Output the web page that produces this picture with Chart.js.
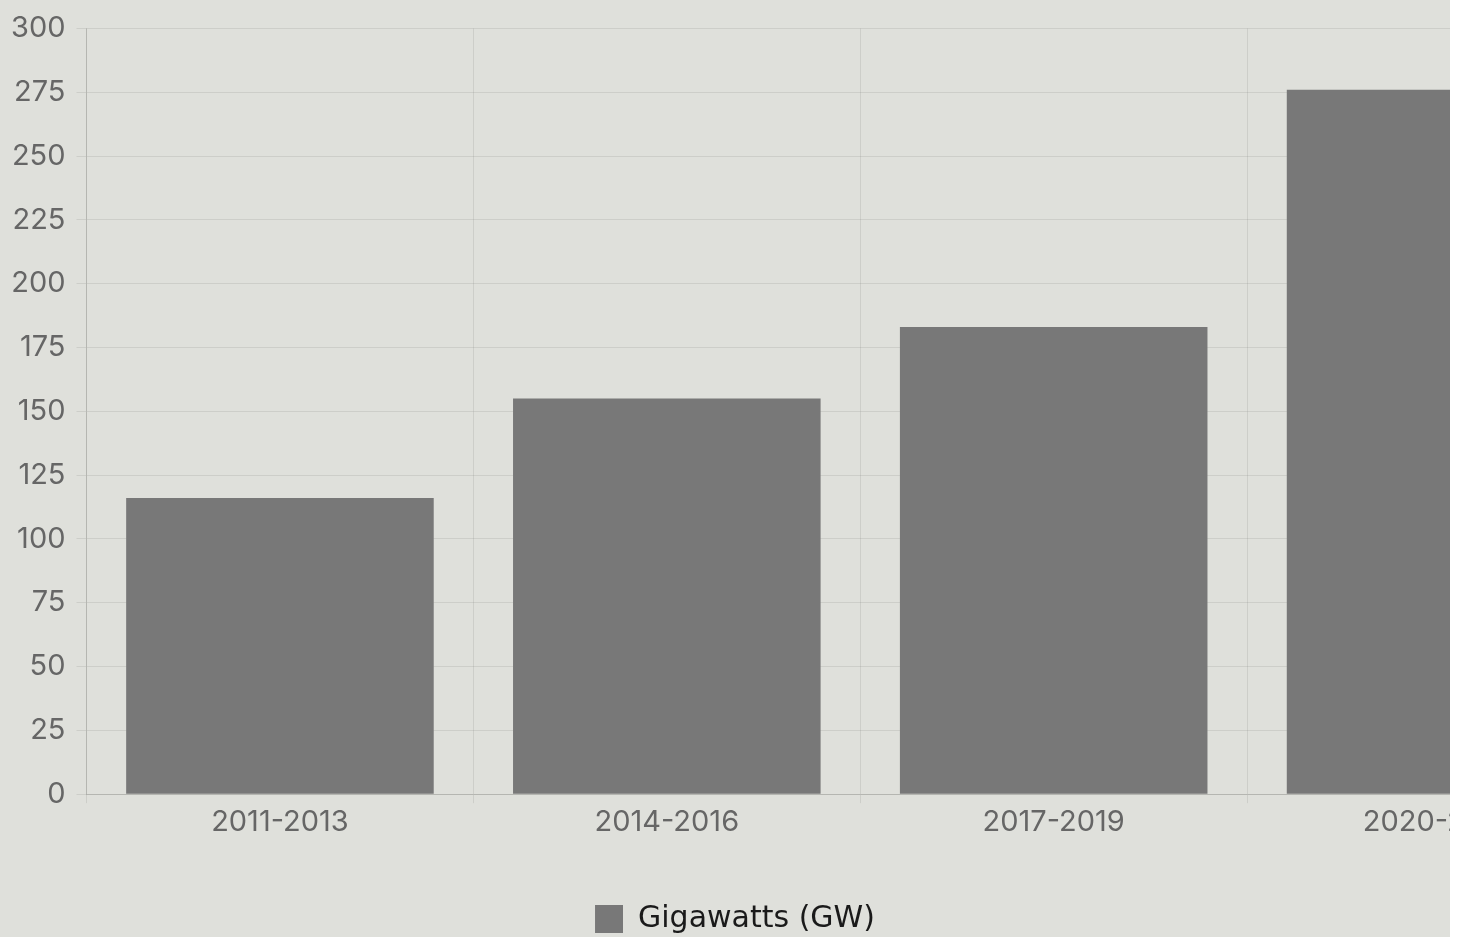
<!DOCTYPE html>
<html>
<head>
<meta charset="utf-8">
<script src="https://cdn.jsdelivr.net/npm/chart.js@4.4.1/dist/chart.umd.min.js"></script>
<style>
  html, body { margin: 0; padding: 0; background: #ffffff; }
  #wrap { width: 1450px; height: 937px; overflow: hidden; background: #dfe0db; position: relative; }
  #c { display: block; }
</style>
</head>
<body>
<div id="wrap"><canvas id="c" width="1634" height="944" style="width:1634px;height:944px"></canvas></div>
<script>
const categories = ['2011-2013', '2014-2016', '2017-2019', '2020-2022'];
const seriesName = 'Gigawatts (GW)';
const seriesValues = [116, 155, 183, 276];
const yTicks = [0, 25, 50, 75, 100, 125, 150, 175, 200, 225, 250, 275, 300];

const FONT = 'Inter, "Open Sans", sans-serif';

const legendShift = {
  id: 'legendShift',
  afterLayout(chart) {
    const lg = chart.legend;
    if (lg) { lg.left = 0; lg.right = 1470; lg.width = 1470; }
  }
};

new Chart(document.getElementById('c'), {
  type: 'bar',
  data: {
    labels: categories,
    datasets: [{
      label: seriesName,
      data: seriesValues,
      backgroundColor: '#787878',
      borderWidth: 0,
      barPercentage: 1,
      categoryPercentage: 0.795
    }]
  },
  plugins: [legendShift],
  options: {
    responsive: false,
    animation: false,
    layout: { padding: { top: 15, bottom: 0, left: 0, right: 0 } },
    scales: {
      x: {
        grid: { color: 'rgba(0,0,0,0.08)', tickLength: 9 },
        border: { color: 'rgba(0,0,0,0.12)' },
        ticks: { color: '#666', font: { family: FONT, size: 29 }, padding: 2, maxRotation: 0 }
      },
      y: {
        min: 0, max: 300,
        afterBuildTicks(scale) { scale.ticks = yTicks.map(v => ({ value: v })); },
        grid: { color: 'rgba(0,0,0,0.08)', tickLength: 10 },
        border: { color: 'rgba(0,0,0,0.12)' },
        ticks: { color: '#666', font: { family: FONT, size: 29 }, padding: 11 }
      }
    },
    plugins: {
      legend: {
        position: 'bottom',
        labels: {
          color: '#1a1a1a',
          font: { family: '"DejaVu Sans", sans-serif', size: 30 },
          boxWidth: 28,
          boxHeight: 28,
          padding: 62
        }
      },
      tooltip: { enabled: false }
    }
  }
});
</script>
</body>
</html>
